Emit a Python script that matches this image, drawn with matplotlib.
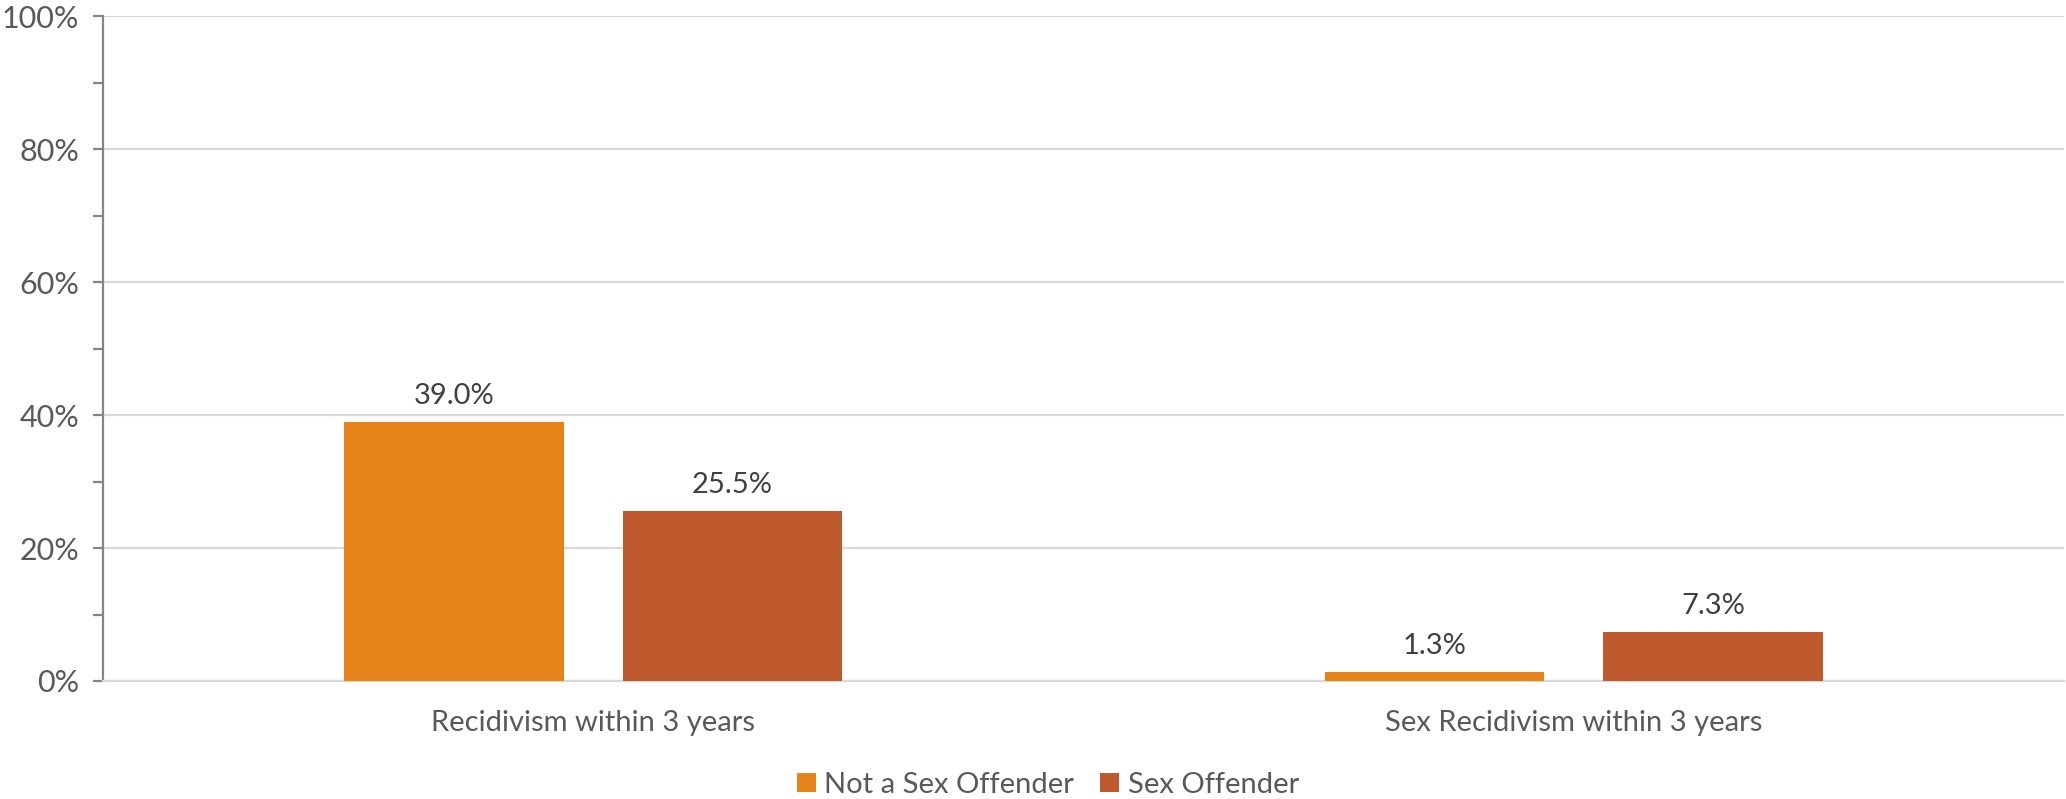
import matplotlib
matplotlib.use("Agg")
import matplotlib.pyplot as plt
from matplotlib.ticker import MultipleLocator, PercentFormatter
import numpy as np

categories = ["Recidivism within 3 years", "Sex Recidivism within 3 years"]
series_names = ["Not a Sex Offender", "Sex Offender"]
not_sex_offender = [39.0, 1.3]
sex_offender = [25.5, 7.3]
colors = ["#E6841A", "#BE582D"]

plt.rcParams["font.family"] = ["Lato", "DejaVu Sans"]

W, H = 2066, 799
fig = plt.figure(figsize=(W / 100, H / 100), dpi=100)
left, right, top, bottom = 103, 2064, 16, 681
ax = fig.add_axes([left / W, 1 - bottom / H, (right - left) / W, (bottom - top) / H])

x = np.arange(len(categories))
bw = 0.224
gap = 0.06
offsets = [-(bw + gap) / 2, (bw + gap) / 2]
for vals, name, col, off in zip([not_sex_offender, sex_offender], series_names, colors, offsets):
    bars = ax.bar(x + off, vals, width=bw, color=col, label=name, zorder=3)
    for b, v in zip(bars, vals):
        ax.annotate(f"{v:.1f}%", (b.get_x() + b.get_width() / 2, v),
                    xytext=(0, 13), textcoords="offset pixels",
                    ha="center", va="bottom", fontsize=21, color="#404040")

ax.set_xlim(-0.5, 1.5)
ax.set_ylim(0, 100)
ax.yaxis.set_major_locator(MultipleLocator(20))
ax.yaxis.set_minor_locator(MultipleLocator(10))
ax.yaxis.set_major_formatter(PercentFormatter(decimals=0))
ax.grid(axis="y", which="major", color="#D9D9D9", linewidth=1.6, zorder=0)

for s in ["top", "right"]:
    ax.spines[s].set_visible(False)
ax.spines["bottom"].set_color("#D9D9D9")
ax.spines["bottom"].set_linewidth(1.6)
ax.spines["left"].set_color("#868686")
ax.spines["left"].set_linewidth(1.6)

ax.tick_params(axis="y", which="both", direction="out", length=7, width=1.6,
               color="#868686", labelsize=22, labelcolor="#595959", pad=10)
ax.tick_params(axis="x", length=0, labelsize=21, labelcolor="#595959", pad=21)
ax.set_xticks(x)
ax.set_xticklabels(categories)

leg = fig.legend(loc="center", bbox_to_anchor=(1048 / W, 1 - 785 / H), ncol=2,
                 frameon=False, fontsize=21, handlelength=0.65, handleheight=0.65,
                 handletextpad=0.3, columnspacing=0.9)
for t in leg.get_texts():
    t.set_color("#595959")

fig.savefig("out.png", dpi=100, facecolor="white")
